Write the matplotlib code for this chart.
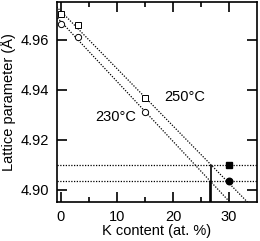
import numpy as np
import matplotlib.pyplot as plt

plt.rcParams['font.family'] = ['Liberation Sans', 'DejaVu Sans']

# open symbols: measured points
k_250 = [0, 3, 15]
a_250 = [4.9704, 4.9660, 4.9368]
k_230 = [0, 3, 15]
a_230 = [4.9665, 4.9613, 4.9312]

# filled symbols
k_fill = [30, 30]
a_fill = [4.9100, 4.9036]

xticks = [0, 10, 20, 30]
yticks = [4.90, 4.92, 4.94, 4.96]


def fit_line(k, a):
    slope, inter = np.polyfit(k, a, 1)
    return slope, inter


fig = plt.figure(figsize=(2.6, 2.41), dpi=100)
ax = fig.add_axes([0.221, 0.162, 0.766, 0.830])

xlim = (-0.6, 34.9)
ylim = (4.8952, 4.9752)
xs = np.array([xlim[0] - 2, xlim[1] + 2])

for k, a in [(k_250, a_250), (k_230, a_230)]:
    m, b = fit_line(k, a)
    ax.plot(xs, m * xs + b, color='k', ls=(0, (1, 1.2)), lw=0.9)

# horizontal lines at the filled points and drop lines to the axis
for (k, a), af in zip([(k_250, a_250), (k_230, a_230)], a_fill):
    m, b = fit_line(k, a)
    xc = (af - b) / m
    ax.axhline(af, color='k', ls=(0, (1, 1.2)), lw=0.9)
    ax.plot([xc, xc], [ylim[0], af], color='k', lw=1.2, solid_capstyle='butt')

ax.plot(k_250, a_250, 's', ms=4.3, mfc='white', mec='k', mew=0.7)
ax.plot(k_230, a_230, 'o', ms=4.5, mfc='white', mec='k', mew=0.7)
ax.plot(k_fill[:1], a_fill[:1], 's', ms=4.5, color='k')
ax.plot(k_fill[1:], a_fill[1:], 'o', ms=4.7, color='k')

ax.text(22.1, 4.9372, '250°C', ha='center', va='center', fontsize=10.5)
ax.text(9.8, 4.9290, '230°C', ha='center', va='center', fontsize=10.5)

ax.set_xlim(*xlim)
ax.set_ylim(*ylim)
ax.set_xticks(xticks)
ax.set_xticks([5, 15, 25], minor=True)
ax.set_yticks(yticks)
ax.set_yticklabels([f'{v:.2f}' for v in yticks])
ax.tick_params(which='both', direction='in', top=True, right=True,
               width=1.2, labelsize=10.5, pad=6)
ax.tick_params(which='major', length=7)
ax.tick_params(which='minor', length=3.6)
for s in ax.spines.values():
    s.set_linewidth(1.2)

ax.set_xlabel('K content (at. %)', fontsize=10.5, labelpad=0)
ax.set_ylabel('Lattice parameter (Å)', fontsize=10.5, labelpad=3)

fig.savefig('out.png', dpi=100)
